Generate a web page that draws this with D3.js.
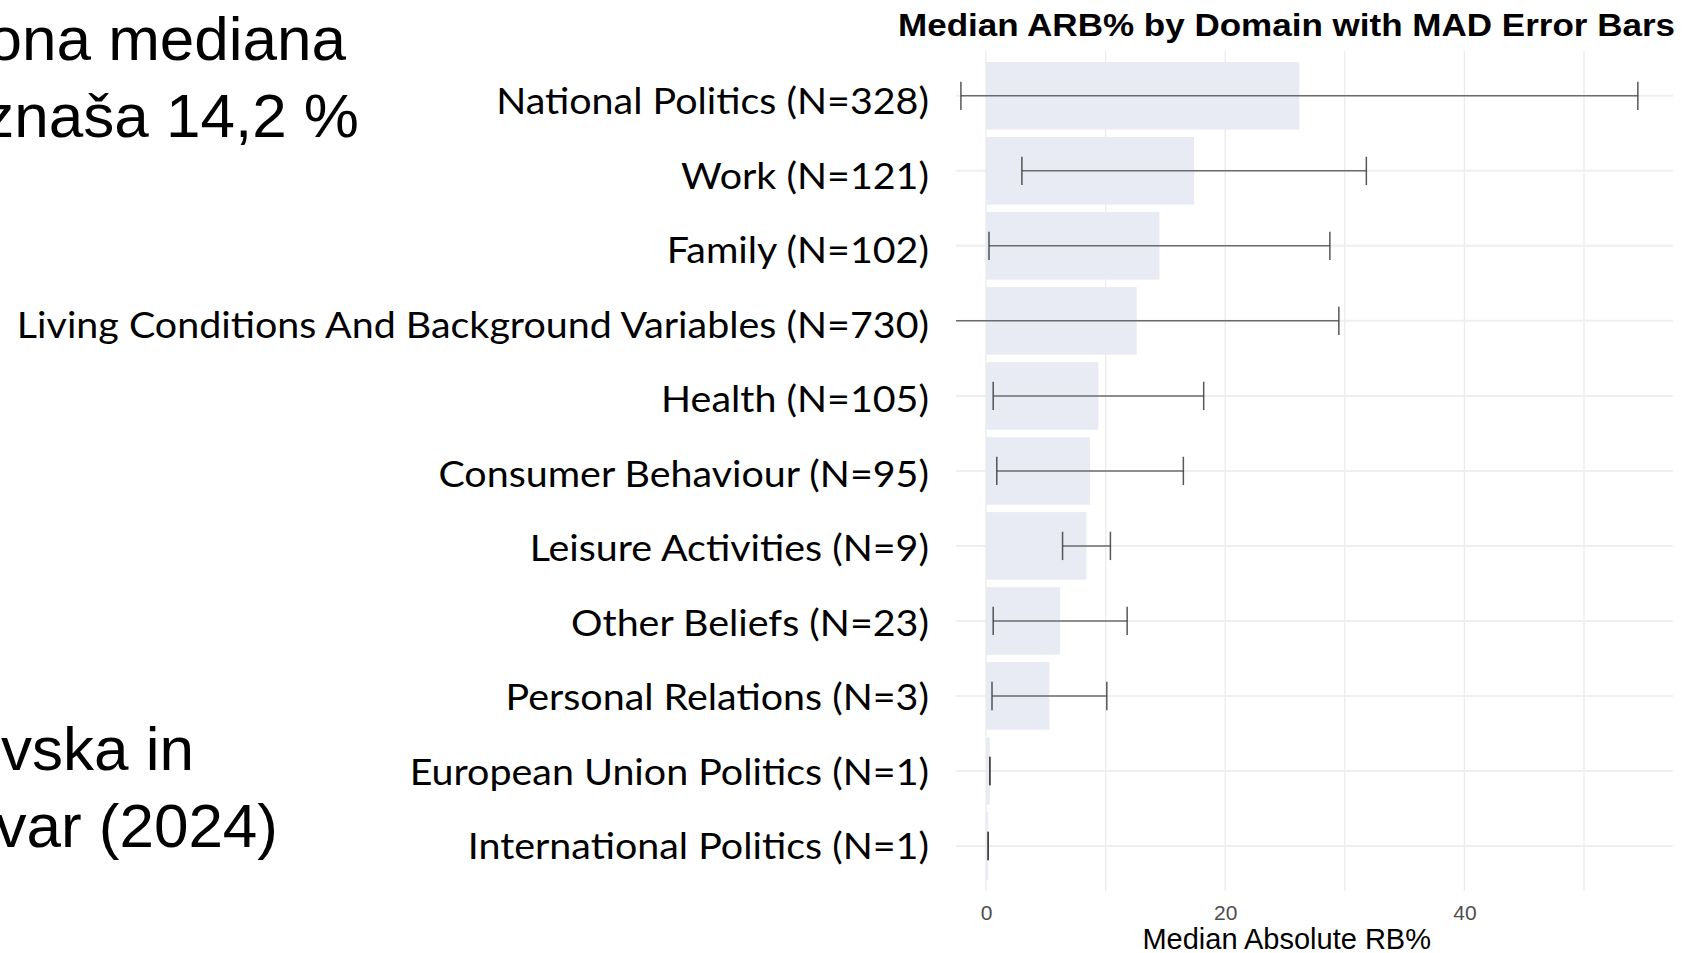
<!DOCTYPE html>
<html>
<head>
<meta charset="utf-8">
<script src="https://cdn.jsdelivr.net/npm/d3@7"></script>
<style>
  html, body { margin: 0; padding: 0; background: #ffffff; }
  svg { display: block; }
</style>
</head>
<body>
<svg id="chart" width="1688" height="953"></svg>
<script>
// ---- data ----
const categories = [
  "National Politics (N=328)",
  "Work (N=121)",
  "Family (N=102)",
  "Living Conditions And Background Variables (N=730)",
  "Health (N=105)",
  "Consumer Behaviour (N=95)",
  "Leisure Activities (N=9)",
  "Other Beliefs (N=23)",
  "Personal Relations (N=3)",
  "European Union Politics (N=1)",
  "International Politics (N=1)"
];
const medianARB = [26.2, 17.4, 14.5, 12.6, 9.4, 8.7, 8.4, 6.2, 5.3, 0.32, 0.18];
const madARB    = [28.3, 14.4, 14.25, 16.9, 8.8, 7.8, 2.0, 5.6, 4.8, 0, 0];
const xTicks = [0, 20, 40];
const xMinorGrid = [10, 30, 50];
const chartTitle = "Median ARB% by Domain with MAD Error Bars";
const xAxisTitle = "Median Absolute RB%";
const slideTextTop = ["ona mediana", "znaša 14,2 %"];
const slideTextBottom = ["vska in", "var (2024)"];

// ---- layout ----
const svg = d3.select("#chart");
const panel = { left: 956, right: 1673, top: 50.8, bottom: 891 };
const x = d3.scaleLinear().domain([-2.51, 57.44]).range([panel.left, panel.right]);
const y = d3.scalePoint().domain(categories).range([panel.top, panel.bottom]).padding(0.6);
const yLabel = d3.scalePoint().domain(categories).range([114.3, 859]).padding(0);
const step = y.step();
const data = categories.map((c, i) => ({ cat: c, med: medianARB[i], mad: madARB[i] }));

// clip
svg.append("defs").append("clipPath").attr("id", "panelClip")
  .append("rect")
  .attr("x", panel.left).attr("y", panel.top)
  .attr("width", panel.right - panel.left).attr("height", panel.bottom - panel.top);

const g = svg.append("g").attr("clip-path", "url(#panelClip)");

// grid
g.selectAll("line.vgrid").data(xTicks.concat(xMinorGrid)).join("line")
  .attr("class", "vgrid")
  .attr("x1", d => x(d)).attr("x2", d => x(d))
  .attr("y1", panel.top).attr("y2", panel.bottom)
  .attr("stroke", "#ebebeb").attr("stroke-width", 1.3);
g.selectAll("line.hgrid").data(categories).join("line")
  .attr("class", "hgrid")
  .attr("x1", panel.left).attr("x2", panel.right)
  .attr("y1", d => y(d)).attr("y2", d => y(d))
  .attr("stroke", "#efefef").attr("stroke-width", 2);

// bars
g.selectAll("rect.bar").data(data).join("rect")
  .attr("class", "bar")
  .attr("x", x(0))
  .attr("y", d => y(d.cat) - step * 0.45)
  .attr("width", d => x(d.med) - x(0))
  .attr("height", step * 0.9)
  .attr("fill", "#e8eaf4");

// error bars
const capH = step * 0.378;
const eb = g.selectAll("g.eb").data(data).join("g").attr("class", "eb")
  .attr("stroke", "#3a3a3a").attr("stroke-opacity", 0.85).attr("stroke-width", 1.5);
eb.append("line")
  .attr("x1", d => x(d.med - d.mad)).attr("x2", d => x(d.med + d.mad))
  .attr("y1", d => y(d.cat)).attr("y2", d => y(d.cat))
  .attr("stroke", "#555");
eb.append("line")
  .attr("x1", d => x(d.med - d.mad)).attr("x2", d => x(d.med - d.mad))
  .attr("y1", d => y(d.cat) - capH / 2).attr("y2", d => y(d.cat) + capH / 2);
eb.append("line")
  .attr("x1", d => x(d.med + d.mad)).attr("x2", d => x(d.med + d.mad))
  .attr("y1", d => y(d.cat) - capH / 2).attr("y2", d => y(d.cat) + capH / 2);

// x axis tick labels
const xAxis = d3.axisBottom(x).tickValues(xTicks).tickFormat(d3.format("d")).tickSize(0).tickPadding(0);
const ax = svg.append("g").attr("transform", `translate(0, 904)`).call(xAxis);
ax.select(".domain").remove();
ax.selectAll("text")
  .attr("font-family", "Liberation Sans, Arial, sans-serif")
  .attr("font-size", 21).attr("fill", "#4d4d4d")
  .attr("dy", "0.76em");

// axis title
svg.append("text")
  .attr("x", 1286.7).attr("y", 949)
  .attr("text-anchor", "middle")
  .attr("font-family", "Liberation Sans, Arial, sans-serif")
  .attr("font-size", 29).attr("fill", "#000")
  .text(xAxisTitle);

// chart title
svg.append("text")
  .attr("x", 1286.5).attr("y", 36)
  .attr("text-anchor", "middle")
  .attr("font-family", "Liberation Sans, Arial, sans-serif")
  .attr("font-weight", "bold")
  .attr("font-size", 32).attr("fill", "#000")
  .attr("textLength", 777).attr("lengthAdjust", "spacingAndGlyphs")
  .text(chartTitle);

// category labels
const labelRight = 929;
const labels = svg.append("g").selectAll("text").data(categories).join("text")
  .attr("text-anchor", "end")
  .attr("font-family", "Lato, 'Open Sans', sans-serif")
  .attr("font-size", 36).attr("fill", "#000")
  .text(d => d);
const longest = labels.filter(d => d === categories[3]).node().getComputedTextLength();
const sx = (labelRight - 16.7) / longest;
labels.attr("transform", d => `translate(${labelRight},${yLabel(d)}) scale(${sx},1)`);

// slide text (cropped at left edge, as in the slide)
const slide = svg.append("g")
  .attr("font-family", "Liberation Sans, Arial, sans-serif")
  .attr("font-size", 62).attr("fill", "#000").attr("text-anchor", "end");
slide.append("text").attr("x", 346).attr("y", 60).text(slideTextTop[0]);
slide.append("text").attr("x", 359).attr("y", 136.7).text(slideTextTop[1]);
slide.append("text").attr("x", 194).attr("y", 770).text(slideTextBottom[0]);
slide.append("text").attr("x", 278).attr("y", 846.7).text(slideTextBottom[1]);
</script>
</body>
</html>
